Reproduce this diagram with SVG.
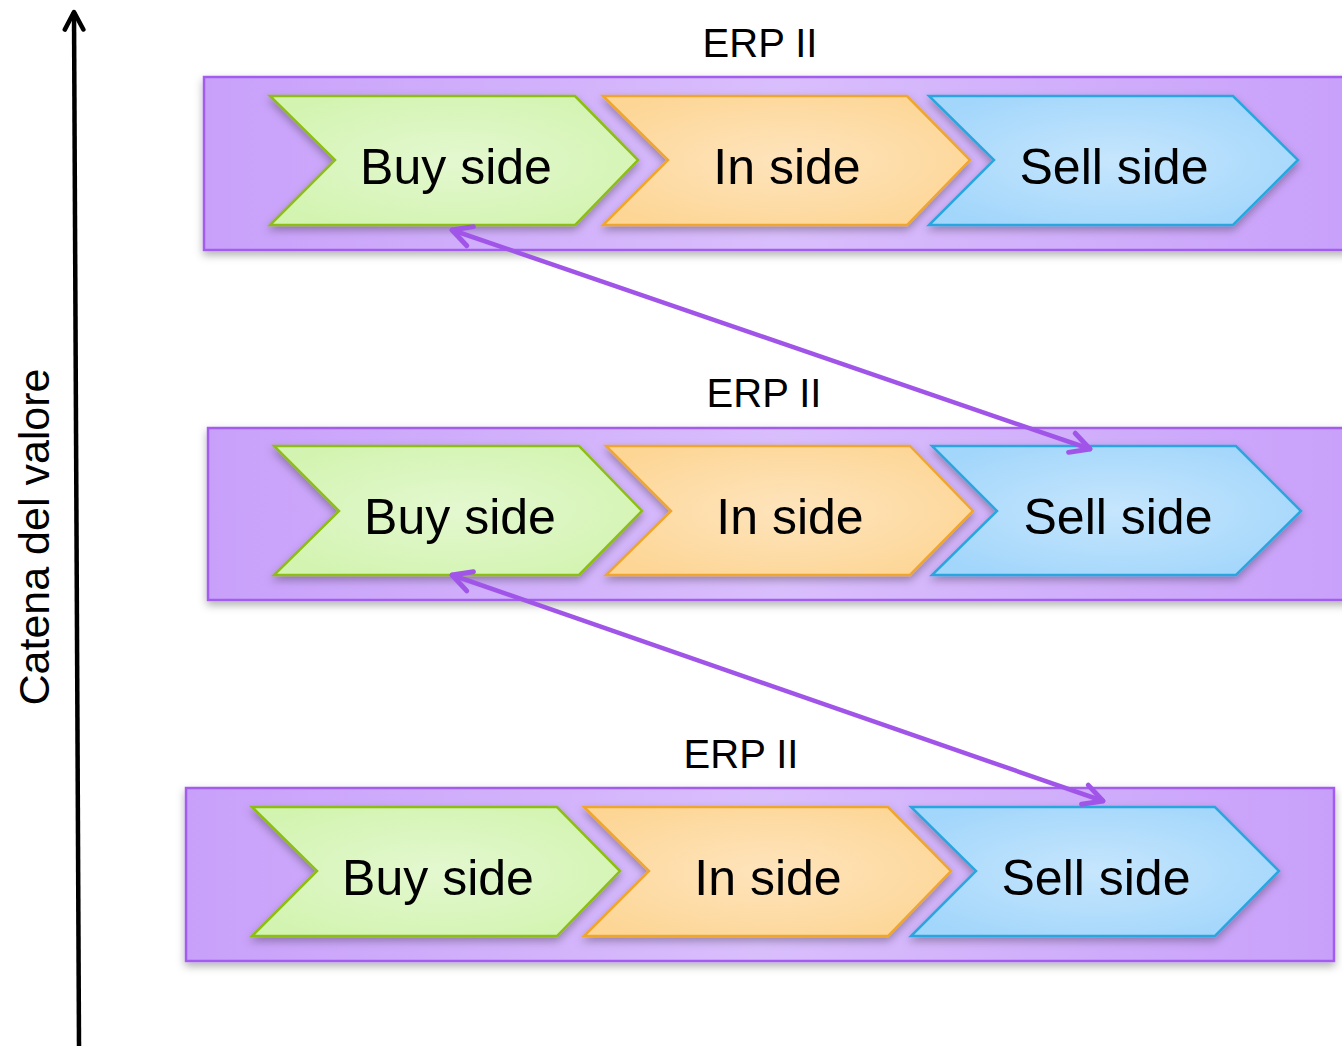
<svg xmlns="http://www.w3.org/2000/svg" width="1342" height="1046" viewBox="0 0 1342 1046">
<style>
.band{stroke:#A35CEE;stroke-width:2.5;fill:url(#gBand);filter:url(#sh)}
.buy{fill:url(#gGreen);stroke:#8DBE12;stroke-width:2.5;filter:url(#sh)}
.in{fill:url(#gOrange);stroke:#EFA62E;stroke-width:2.5;filter:url(#sh)}
.sell{fill:url(#gBlue);stroke:#2BA6DF;stroke-width:2.5;filter:url(#sh)}
.lbl{font-family:"Liberation Sans",Arial,sans-serif;font-size:50px;fill:#000;text-anchor:middle}
.erp{font-family:"Liberation Sans",Arial,sans-serif;font-size:40px;fill:#000;text-anchor:middle}
.conn{stroke:#A055E8;stroke-width:4.5;fill:none;stroke-linecap:round}
</style>
<defs>
<filter id="sh" x="-10%" y="-20%" width="120%" height="150%">
<feDropShadow dx="0" dy="4" stdDeviation="4" flood-color="#000" flood-opacity="0.3"/>
</filter>
<linearGradient id="gBand" x1="0" y1="0" x2="1" y2="0">
<stop offset="0" stop-color="#C8A0FA"/><stop offset="0.5" stop-color="#D9BEFC"/><stop offset="1" stop-color="#C8A0FA"/>
</linearGradient>
<radialGradient id="gGreen" cx="0.5" cy="0.5" r="0.6">
<stop offset="0" stop-color="#E4F8D0"/><stop offset="1" stop-color="#D2F4B0"/>
</radialGradient>
<radialGradient id="gOrange" cx="0.5" cy="0.5" r="0.6">
<stop offset="0" stop-color="#FEE4BC"/><stop offset="1" stop-color="#FDD696"/>
</radialGradient>
<radialGradient id="gBlue" cx="0.5" cy="0.5" r="0.6">
<stop offset="0" stop-color="#C6E6FD"/><stop offset="1" stop-color="#A2D6FB"/>
</radialGradient>
<marker id="ah" viewBox="0 0 12 12" refX="10" refY="6" markerWidth="6" markerHeight="6" orient="auto-start-reverse" markerUnits="strokeWidth">
<path d="M1.5,1.5 L10,6 L1.5,10.5" fill="none" stroke="#A055E8" stroke-width="2.2" stroke-linecap="round" stroke-linejoin="round"/>
</marker>
<marker id="ahk" viewBox="0 0 12 12" refX="10" refY="6" markerWidth="5.5" markerHeight="5.5" orient="auto" markerUnits="strokeWidth">
<path d="M1.5,1.5 L10,6 L1.5,10.5" fill="none" stroke="#000" stroke-width="2.2" stroke-linecap="round" stroke-linejoin="round"/>
</marker>
</defs>
<rect width="1342" height="1046" fill="#fff"/>

<g id="axis">
<line x1="79" y1="1046" x2="74" y2="12" stroke="#000" stroke-width="4.5" marker-end="url(#ahk)"/>
<text transform="translate(49,537) rotate(-90)" class="erp" style="font-size:43px">Catena del valore</text>
</g>

<g id="layer1">
<text x="760" y="57" class="erp">ERP II</text>
<rect id="band1" class="band" x="204" y="77" width="1150" height="173"/>
<g id="buy1"><polygon class="buy" points="270,96 575,96 638,160 575,225 270,225 335,160"/><text x="456" y="184" class="lbl">Buy side</text></g>
<g id="in1"><polygon class="in" points="603,96 907,96 970,160 907,225 603,225 668,160"/><text x="787" y="184" class="lbl">In side</text></g>
<g id="sell1"><polygon class="sell" points="929,96 1233,96 1298,160 1233,225 929,225 994,160"/><text x="1114" y="184" class="lbl">Sell side</text></g>
</g>

<g id="layer2">
<text x="764" y="407" class="erp">ERP II</text>
<rect id="band2" class="band" x="208" y="428" width="1150" height="172"/>
<g id="buy2"><polygon class="buy" points="274,446 579,446 642,511 579,575 274,575 339,511"/><text x="460" y="534" class="lbl">Buy side</text></g>
<g id="in2"><polygon class="in" points="606,446 910,446 973,511 910,575 606,575 671,511"/><text x="790" y="534" class="lbl">In side</text></g>
<g id="sell2"><polygon class="sell" points="932,446 1236,446 1301,511 1236,575 932,575 997,511"/><text x="1118" y="534" class="lbl">Sell side</text></g>
</g>

<g id="layer3">
<text x="741" y="768" class="erp">ERP II</text>
<rect id="band3" class="band" x="186" y="788" width="1148" height="173"/>
<g id="buy3"><polygon class="buy" points="252,807 557,807 620,871 557,936 252,936 317,871"/><text x="438" y="895" class="lbl">Buy side</text></g>
<g id="in3"><polygon class="in" points="584,807 888,807 951,871 888,936 584,936 649,871"/><text x="768" y="895" class="lbl">In side</text></g>
<g id="sell3"><polygon class="sell" points="911,807 1215,807 1279,871 1215,936 911,936 976,871"/><text x="1096" y="895" class="lbl">Sell side</text></g>
</g>

<g id="connectors">
<line class="conn" x1="452" y1="230" x2="1090" y2="449" marker-start="url(#ah)" marker-end="url(#ah)"/>
<line class="conn" x1="452" y1="575" x2="1103" y2="801" marker-start="url(#ah)" marker-end="url(#ah)"/>
</g>
</svg>
